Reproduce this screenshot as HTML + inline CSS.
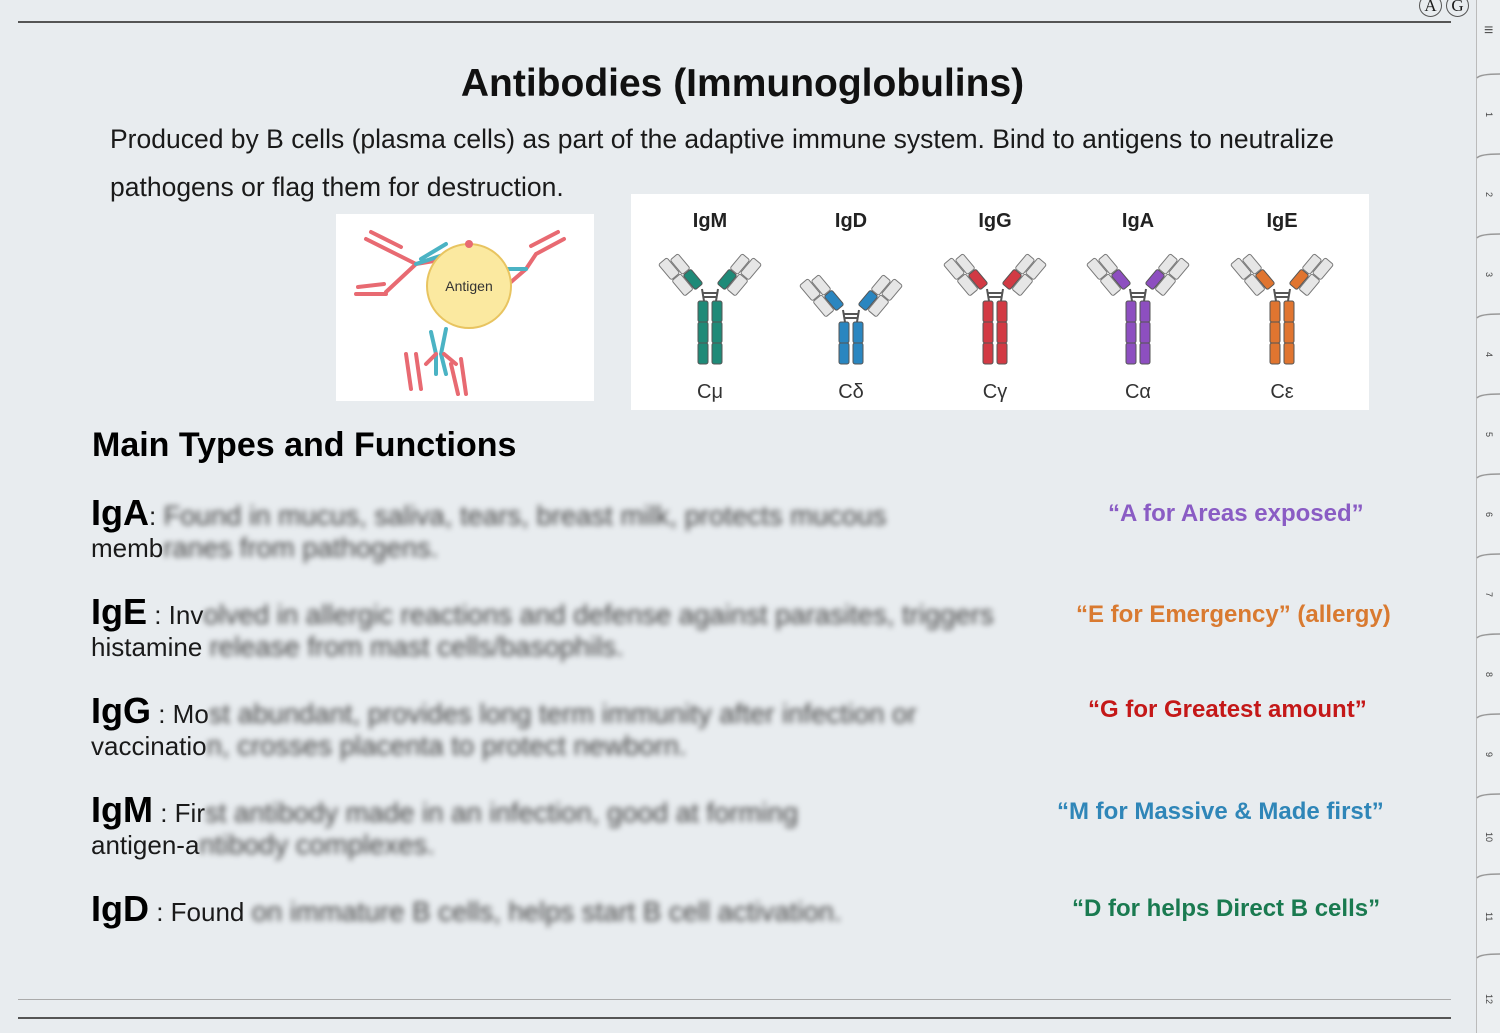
<!DOCTYPE html>
<html><head><meta charset="utf-8"><style>
body{margin:0;width:1500px;height:1033px;background:#e8ecef;position:relative;overflow:hidden;font-family:"Liberation Sans",sans-serif;color:#1a1a1a}
.a{position:absolute;white-space:nowrap}
.blur{filter:blur(3px);color:#444;font-size:27.5px}
.h{font-weight:bold;font-size:36px;color:#000}
.t{font-size:26px}
.m{font-size:24px;font-weight:bold}
</style></head><body>
<div class="a" style="left:18px;top:21px;width:1433px;height:2px;background:#555"></div>
<div class="a" style="left:1419px;top:-6px;width:21px;height:21px;border:1px solid #555;border-radius:50%;font:17px 'Liberation Serif',serif;text-align:center;line-height:21px">A</div>
<div class="a" style="left:1446px;top:-6px;width:21px;height:21px;border:1px solid #555;border-radius:50%;font:17px 'Liberation Serif',serif;text-align:center;line-height:21px">G</div>
<div class="a" style="left:1476px;top:0;width:1px;height:1033px;background:#bbb"></div>
<div class="a" style="left:1477px;top:0;width:23px;height:1033px;background:#eceff1"></div>
<div class="a" style="left:1484px;top:22px;font-size:16px;color:#555">≡</div>
<svg class="a" style="left:1476px;top:0" width="24" height="1033">
<g stroke="#999" fill="none" stroke-width="1.5">
<path d="M1 78 Q4 74 24 74M1 158 Q4 154 24 154M1 238 Q4 234 24 234M1 318 Q4 314 24 314M1 398 Q4 394 24 394M1 478 Q4 474 24 474M1 558 Q4 554 24 554M1 638 Q4 634 24 634M1 718 Q4 714 24 714M1 798 Q4 794 24 794M1 878 Q4 874 24 874M1 958 Q4 954 24 954"/></g>
<g font-size="9" fill="#444" font-family="Liberation Sans">
<text transform="translate(10,112) rotate(90)">1</text><text transform="translate(10,192) rotate(90)">2</text><text transform="translate(10,272) rotate(90)">3</text><text transform="translate(10,352) rotate(90)">4</text><text transform="translate(10,432) rotate(90)">5</text><text transform="translate(10,512) rotate(90)">6</text><text transform="translate(10,592) rotate(90)">7</text><text transform="translate(10,672) rotate(90)">8</text><text transform="translate(10,752) rotate(90)">9</text><text transform="translate(10,832) rotate(90)">10</text><text transform="translate(10,912) rotate(90)">11</text><text transform="translate(10,994) rotate(90)">12</text></g></svg>

<div class="a" style="left:0;width:1485px;top:62px;text-align:center;font-size:39px;font-weight:bold;color:#111">Antibodies (Immunoglobulins)</div>
<div class="a t" style="left:110px;top:124px;font-size:26.5px">Produced by B cells (plasma cells) as part of the adaptive immune system. Bind to antigens to neutralize</div>
<div class="a t" style="left:110px;top:172px;font-size:26.5px">pathogens or flag them for destruction.</div>

<svg class="a" style="left:336px;top:214px" width="258" height="187">
<rect width="258" height="187" fill="#fff"/>
<g stroke-width="4" fill="none" stroke-linecap="round">
<path d="M30 25 L60 40 M35 18 L65 33 M20 80 L50 80 M22 73 L48 70 M60 40 L80 50 M50 78 L80 50 M80 50 L110 45" stroke="#e86a72"/>
<path d="M80 50 L110 40 M110 40 L130 50 M85 45 L110 30" stroke="#4bb3c4"/>
<path d="M228 25 L200 40 M222 18 L195 32 M200 40 L190 55 L175 68 M175 68 L160 80" stroke="#e86a72"/>
<path d="M190 55 L170 55 L155 45 M170 60 L155 75" stroke="#4bb3c4"/>
<path d="M95 118 L100 140 M110 115 L105 140 M100 140 L100 160 M105 140 L110 160" stroke="#4bb3c4"/>
<path d="M70 140 L75 175 M80 140 L85 175 M115 150 L122 180 M125 145 L130 180 M90 150 L100 140 M120 150 L108 140" stroke="#e86a72"/>
</g>
<circle cx="133" cy="72" r="42" fill="#fbe9a0" stroke="#e8c460" stroke-width="2"/>
<circle cx="133" cy="30" r="4" fill="#e86a72"/>
<text x="133" y="77" text-anchor="middle" font-size="14" fill="#333">Antigen</text>
</svg>

<svg class="a" style="left:631px;top:194px" width="738" height="216">
<defs>
<g id="arm">
<rect x="-5" y="-22" width="10" height="19" rx="2" fill="currentColor" stroke="#555" stroke-width="1"/>
<rect x="-5" y="-42" width="10" height="19" rx="2" fill="#e6e6e6" stroke="#777" stroke-width="1"/>
<rect x="6" y="-25" width="11" height="20" rx="2" fill="#e6e6e6" stroke="#777" stroke-width="1"/>
<rect x="6" y="-46" width="11" height="20" rx="2" fill="#e6e6e6" stroke="#777" stroke-width="1"/>
</g>
<g id="top">
<use href="#arm" transform="translate(9,-12) rotate(40)"/>
<use href="#arm" transform="translate(-9,-12) scale(-1,1) rotate(40)"/>
<path d="M-8 -12 L-6 0 M8 -12 L6 0 M-7 -8 L7 -8 M-7 -4 L7 -4" stroke="#555" stroke-width="2" fill="none"/>
<g fill="currentColor" stroke="#555" stroke-width="1">
<rect x="-12" y="0" width="10" height="21" rx="2"/><rect x="2" y="0" width="10" height="21" rx="2"/>
<rect x="-12" y="21" width="10" height="21" rx="2"/><rect x="2" y="21" width="10" height="21" rx="2"/></g>
</g>
<g id="ab">
<use href="#top"/>
<g fill="currentColor" stroke="#555" stroke-width="1">
<rect x="-12" y="42" width="10" height="21" rx="2"/><rect x="2" y="42" width="10" height="21" rx="2"/></g>
</g>
</defs>
<rect width="738" height="216" fill="#fff"/>
<g font-size="20" font-weight="bold" text-anchor="middle" fill="#222"><text x="79" y="33">IgM</text><text x="220" y="33">IgD</text><text x="364" y="33">IgG</text><text x="507" y="33">IgA</text><text x="651" y="33">IgE</text></g>
<use href="#ab" x="79" y="107" style="color:#1f8a78"/>
<use href="#top" x="220" y="128" style="color:#2a86c0"/>
<use href="#ab" x="364" y="107" style="color:#d23a44"/>
<use href="#ab" x="507" y="107" style="color:#8d4fc0"/>
<use href="#ab" x="651" y="107" style="color:#e07530"/>
<g font-size="20" text-anchor="middle" fill="#333"><text x="79" y="204">Cμ</text><text x="220" y="204">Cδ</text><text x="364" y="204">Cγ</text><text x="507" y="204">Cα</text><text x="651" y="204">Cε</text></g>
</svg>

<div class="a" style="left:92px;top:426px;font-size:34px;font-weight:bold;color:#000">Main Types and Functions</div>

<div class="a t" style="left:91px;top:492px"><span class="h">IgA</span>: <span class="blur">Found in mucus, saliva, tears, breast milk, protects mucous</span></div>
<div class="a t" style="left:91px;top:532px">memb<span class="blur">ranes from pathogens.</span></div>
<div class="a m" style="left:1108px;top:500px;color:#8a5cc4">“A for Areas exposed”</div>

<div class="a t" style="left:91px;top:591px"><span class="h">IgE</span> : Inv<span class="blur">olved in allergic reactions and defense against parasites, triggers</span></div>
<div class="a t" style="left:91px;top:631px">histamine <span class="blur">release from mast cells/basophils.</span></div>
<div class="a m" style="left:1076px;top:601px;color:#d97a30">“E for Emergency” (allergy)</div>

<div class="a t" style="left:91px;top:690px"><span class="h">IgG</span> : Mo<span class="blur">st abundant, provides long term immunity after infection or</span></div>
<div class="a t" style="left:91px;top:730px">vaccinatio<span class="blur">n, crosses placenta to protect newborn.</span></div>
<div class="a m" style="left:1088px;top:696px;color:#c41818">“G for Greatest amount”</div>

<div class="a t" style="left:91px;top:789px"><span class="h">IgM</span> : Fir<span class="blur">st antibody made in an infection, good at forming</span></div>
<div class="a t" style="left:91px;top:829px">antigen-a<span class="blur">ntibody complexes.</span></div>
<div class="a m" style="left:1057px;top:798px;color:#2f86b8">“M for Massive &amp; Made first”</div>

<div class="a t" style="left:91px;top:888px"><span class="h">IgD</span> : Found <span class="blur">on immature B cells, helps start B cell activation.</span></div>
<div class="a m" style="left:1072px;top:895px;color:#1a7a50">“D for helps Direct B cells”</div>

<div class="a" style="left:18px;top:999px;width:1433px;height:1px;background:#aaa"></div>
<div class="a" style="left:18px;top:1017px;width:1433px;height:2px;background:#555"></div>
</body></html>
